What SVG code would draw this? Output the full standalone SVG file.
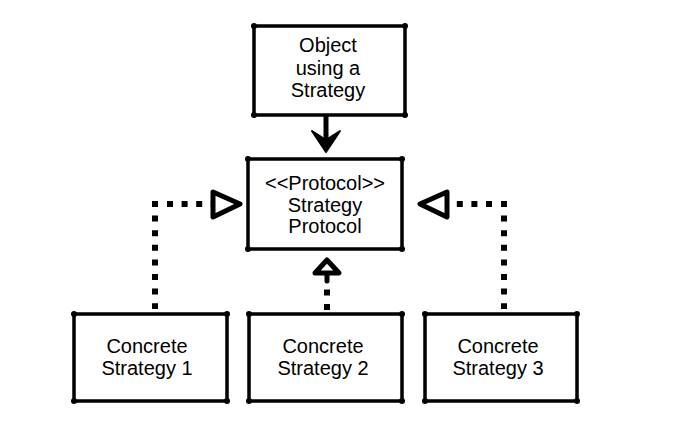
<svg xmlns="http://www.w3.org/2000/svg" width="676" height="424" viewBox="0 0 676 424">
  <style>
    .box { fill: #ffffff; stroke: #000000; stroke-width: 3.5; stroke-linejoin: round; }
    .blob { fill: #000000; }
    .lbl { font-family: "Liberation Sans", Arial, sans-serif; font-size: 20px; fill: #000000; text-anchor: middle; }
    .dots { fill: none; stroke: #000000; stroke-width: 6; stroke-dasharray: 6 8.6; stroke-linecap: butt; }
    .solid { fill: none; stroke: #000000; stroke-width: 5; stroke-linecap: round; stroke-linejoin: round; }
    .open { fill: #ffffff; stroke: #000000; stroke-width: 5; stroke-linejoin: round; }
  </style>
  <rect width="676" height="424" fill="#ffffff"/>

  <g id="connectors">
    <!-- Object -> Strategy Protocol (solid, filled head) -->
    <path class="solid" d="M326 116 V144"/>
    <path d="M312 131 L326 152 L340 131 L326 140 Z" fill="#000000" stroke="#000000" stroke-width="2" stroke-linejoin="round"/>

    <!-- Concrete 1 -> Protocol (dotted, open triangle) -->
    <path class="dots" d="M155 201 V309"/>
    <path class="dots" d="M167 204 H212"/>
    <path class="open" d="M213 192 L240 204 L213 217 Z"/>

    <!-- Concrete 3 -> Protocol -->
    <path class="dots" d="M504 201 V309"/>
    <path class="dots" d="M492 204 H447"/>
    <path class="open" d="M447 192 L420 204 L447 217 Z"/>

    <!-- Concrete 2 -> Protocol -->
    <path class="dots" d="M327 289.5 V312"/>
    <path class="solid" d="M327 272 V281"/>
    <path class="open" d="M327 260 L339 273 L315 273 Z"/>
  </g>

  <g id="object">
    <rect class="box" x="254" y="26" width="151" height="89"/>
    <circle class="blob" cx="254" cy="26" r="3"/><circle class="blob" cx="405" cy="26" r="3"/>
    <circle class="blob" cx="254" cy="115" r="3"/><circle class="blob" cx="405" cy="115" r="3"/>
    <text class="lbl" x="328" y="52">Object</text>
    <text class="lbl" x="328" y="75">using a</text>
    <text class="lbl" x="328" y="97">Strategy</text>
  </g>

  <g id="protocol">
    <rect class="box" x="248" y="159" width="154" height="90"/>
    <circle class="blob" cx="248" cy="159" r="3"/><circle class="blob" cx="402" cy="159" r="3"/>
    <circle class="blob" cx="248" cy="249" r="3"/><circle class="blob" cx="402" cy="249" r="3"/>
    <text class="lbl" x="325" y="190">&lt;&lt;Protocol&gt;&gt;</text>
    <text class="lbl" x="325" y="212">Strategy</text>
    <text class="lbl" x="325" y="233">Protocol</text>
  </g>

  <g id="concrete1">
    <rect class="box" x="74" y="314" width="153" height="87"/>
    <circle class="blob" cx="74" cy="314" r="3"/><circle class="blob" cx="227" cy="314" r="3"/>
    <circle class="blob" cx="74" cy="401" r="3"/><circle class="blob" cx="227" cy="401" r="3"/>
    <text class="lbl" x="147" y="353">Concrete</text>
    <text class="lbl" x="147" y="375">Strategy 1</text>
  </g>

  <g id="concrete2">
    <rect class="box" x="249" y="314" width="153" height="87"/>
    <circle class="blob" cx="249" cy="314" r="3"/><circle class="blob" cx="402" cy="314" r="3"/>
    <circle class="blob" cx="249" cy="401" r="3"/><circle class="blob" cx="402" cy="401" r="3"/>
    <text class="lbl" x="323" y="353">Concrete</text>
    <text class="lbl" x="323" y="375">Strategy 2</text>
  </g>

  <g id="concrete3">
    <rect class="box" x="425" y="314" width="152" height="87"/>
    <circle class="blob" cx="425" cy="314" r="3"/><circle class="blob" cx="577" cy="314" r="3"/>
    <circle class="blob" cx="425" cy="401" r="3"/><circle class="blob" cx="577" cy="401" r="3"/>
    <text class="lbl" x="498" y="353">Concrete</text>
    <text class="lbl" x="498" y="375">Strategy 3</text>
  </g>
</svg>
